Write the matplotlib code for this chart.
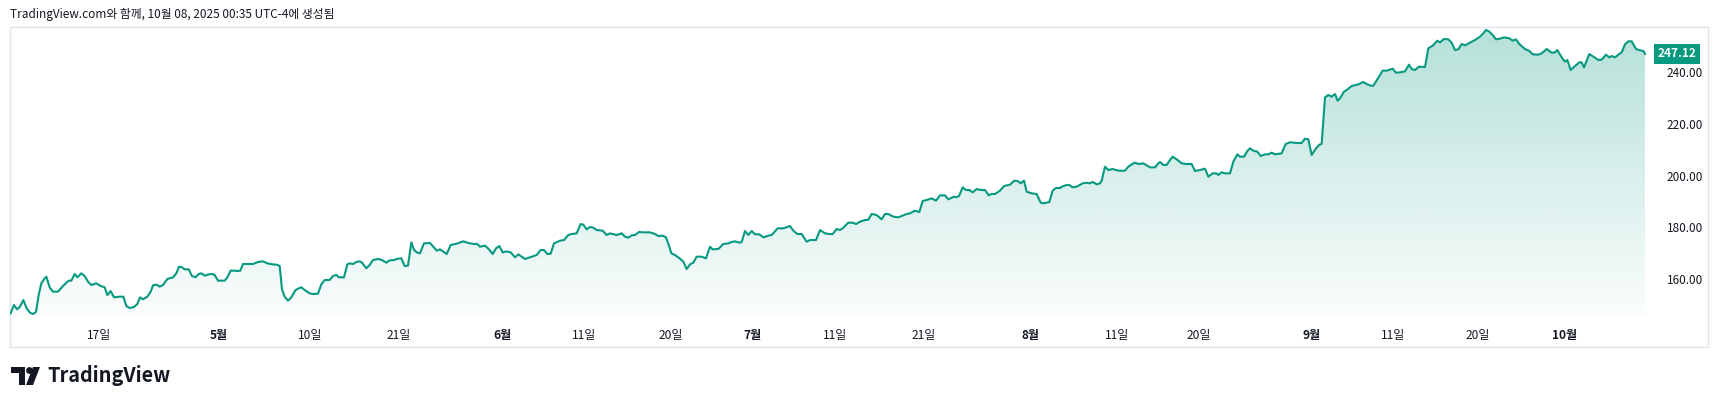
import numpy as np
import matplotlib
matplotlib.use("Agg")
import matplotlib.pyplot as plt
from matplotlib.patches import Rectangle, Circle, Polygon
import matplotlib.transforms as mtransforms

plt.rcParams["font.family"] = ["Noto Sans CJK KR", "DejaVu Sans"]

# price trace, x = bar position on the time scale
bars = [
    8, 18, 27, 36, 46, 56, 66, 75, 84, 92,
    100, 110, 115, 125, 135, 150, 165, 182, 190, 200,
    208, 220, 230, 240, 250, 265, 278, 290, 298, 308,
    318, 335, 346, 355, 365, 378, 388, 396, 405, 418,
    428, 435, 445, 455, 465, 478, 495, 505, 513, 522,
    530, 542, 552, 563, 572, 580, 590, 602, 612, 620,
    630, 650, 658, 668, 678, 688, 697, 705, 720, 735,
    750, 765, 778, 792, 806, 815, 822, 830, 840, 850,
    862, 870, 880, 890, 905, 915, 930, 940, 950, 965,
    975, 985, 993, 1008, 1018, 1025, 1035, 1045, 1055, 1062,
    1075, 1085, 1095, 1110, 1122, 1135, 1145, 1160, 1165, 1180,
    1190, 1200, 1210, 1218, 1228,
    1236, 1248, 1266, 1276, 1286, 1296, 1306, 1316, 1328, 1346,
    1366, 1381, 1398, 1408, 1416, 1431, 1441, 1454, 1464, 1474,
    1484, 1496, 1508, 1521, 1531, 1541, 1551, 1566, 1586, 1598,
    1608, 1618, 1628, 1638, 1656, 1668, 1681, 1691, 1706, 1718,
    1726, 1736, 1746, 1756, 1766, 1784, 1796, 1806, 1826, 1841,
    1851, 1861, 1871, 1881, 1893, 1906, 1926, 1941, 1951, 1964,
    1974, 1984, 1990, 2001, 2016, 2026, 2036, 2046, 2056, 2066,
    2081, 2094, 2106, 2114, 2131, 2146, 2161, 2171, 2181, 2194,
    2201, 2211, 2221, 2231, 2241, 2254, 2266, 2281, 2291, 2309,
    2326, 2346, 2356, 2368, 2381, 2396, 2406, 2424, 2436, 2451,
    2464, 2474, 2486, 2496,
    2504, 2521, 2534, 2544, 2556, 2571, 2581, 2591, 2606, 2621,
    2631, 2641, 2656, 2671, 2681, 2696, 2706, 2721, 2734, 2744,
    2756, 2771, 2784, 2796, 2811, 2821, 2838, 2844, 2853, 2864,
    2874, 2884, 2894, 2906, 2918, 2931, 2942, 2951, 2961, 2976,
    2988, 3006, 3019, 3031, 3038, 3048, 3056, 3071, 3086, 3098,
    3106, 3124, 3134, 3144, 3156, 3166, 3176, 3184, 3194, 3206,
    3224, 3236, 3244, 3254, 3266, 3276, 3281, 3291, 3301, 3314,
    3331, 3351, 3361, 3371, 3381, 3391, 3406, 3426, 3441, 3451,
    3456, 3466, 3476, 3486, 3494, 3506, 3521, 3536, 3551, 3561,
    3576, 3591, 3601, 3614, 3626, 3631, 3641, 3651, 3666, 3676,
    3688,
    3696, 3708, 3718, 3726, 3736, 3748, 3758, 3771, 3781, 3791,
    3801, 3821, 3833, 3846, 3866, 3881, 3891, 3901, 3911, 3924,
    3934, 3941, 3951, 3961, 3971, 3981, 3989, 3996, 4008, 4016,
    4031, 4051, 4066, 4076, 4088, 4096, 4108, 4124, 4136, 4154,
    4164, 4176, 4191, 4203, 4211, 4221, 4233, 4251, 4261, 4274,
    4288, 4296, 4308, 4321, 4331, 4341, 4351, 4361, 4371, 4386,
    4401, 4416, 4424, 4434, 4444, 4454, 4464, 4476, 4488, 4504,
    4514, 4524, 4534, 4551, 4564, 4574, 4591, 4601, 4616, 4631,
    4641, 4648, 4661, 4671, 4678, 4688, 4701, 4714, 4721, 4728,
    4744, 4756, 4771, 4781, 4794, 4804, 4811, 4821, 4831, 4841,
    4851, 4861, 4871, 4884, 4896, 4906, 4911,
]

prices = [
    146.76, 149.98, 148.31, 149.34, 151.92, 148.69, 147.02, 146.50, 147.28, 153.85,
    158.37, 160.30, 160.94, 156.82, 155.14, 155.14, 157.33, 159.40, 159.40, 161.98,
    160.69, 162.23, 161.20, 159.01, 157.72, 158.37, 157.33, 156.82, 153.85, 155.40,
    152.95, 153.21, 153.21, 149.60, 148.82, 149.21, 150.37, 152.95, 152.18, 153.21,
    155.14, 157.59, 157.85, 157.08, 157.72, 160.04, 160.69, 162.23, 164.81, 164.56,
    163.78, 163.78, 161.20, 160.69, 161.98, 162.23, 161.33, 161.85, 161.98, 161.59,
    159.40, 159.40, 160.69, 163.27, 163.27, 163.14, 163.27, 165.84, 165.84, 165.84,
    166.62, 166.88, 166.10, 165.72, 165.59, 165.07, 156.04, 153.21, 151.66, 152.95,
    155.66, 156.30, 156.82, 155.79, 154.50, 154.24, 154.37, 157.98, 159.65, 159.65,
    161.20, 161.59, 160.69, 160.69, 165.72, 166.10, 165.84, 166.62, 166.88, 166.36,
    164.17, 165.46, 167.39, 167.78, 167.39, 166.36, 167.26, 167.39, 167.78, 168.04,
    165.07, 165.20, 174.23, 171.26, 170.23,
    169.97, 173.83, 173.96, 172.54, 171.00, 171.51, 170.61, 169.71, 173.19, 173.71,
    174.61, 173.96, 173.58, 173.58, 172.54, 172.93, 171.77, 169.71, 171.90, 172.80,
    170.35, 170.74, 170.35, 168.42, 169.58, 168.68, 167.77, 168.42, 169.32, 171.25,
    171.25, 169.71, 169.84, 173.83, 174.87, 175.12, 177.06, 177.44, 177.70, 181.31,
    181.06, 179.25, 180.15, 179.89, 178.99, 178.73, 177.06, 177.70, 177.06, 177.70,
    176.41, 176.03, 176.93, 177.06, 178.22, 178.09, 178.09, 177.44, 176.67, 176.80,
    176.16, 172.54, 169.97, 169.32, 167.90, 166.74, 163.90, 165.71, 166.35, 168.68,
    168.68, 168.03, 172.54, 171.51, 171.64, 173.58, 173.83, 174.35, 174.61, 174.09,
    174.35, 178.61, 177.06, 178.61, 177.32, 177.32, 176.16, 176.80, 177.06, 179.64,
    179.64, 180.54, 178.73, 177.44, 177.44, 174.48, 175.12, 175.12, 178.99, 177.70,
    177.44, 177.44, 179.38, 178.99,
    179.64, 181.83, 181.83, 181.31, 182.21, 182.86, 182.99, 185.18, 184.79, 183.12,
    185.18, 185.18, 184.15, 183.89, 184.41, 185.18, 185.44, 186.47, 185.95, 190.21,
    190.60, 191.24, 190.34, 192.40, 192.40, 190.85, 191.89, 191.63, 192.14, 195.50,
    194.46, 194.46, 193.56, 194.85, 194.46, 194.46, 192.40, 192.92, 192.92, 194.21,
    196.01, 196.53, 198.08, 197.82, 197.04, 198.08, 193.82, 193.18, 192.92, 189.56,
    189.31, 189.82, 194.21, 195.24, 195.24, 196.01, 196.40, 196.40, 195.50, 195.75,
    197.04, 197.30, 197.04, 197.56, 196.66, 197.04, 198.08, 203.49, 202.20, 202.59,
    201.94, 201.94, 203.49, 204.39, 205.04, 204.52, 204.78, 203.23, 203.23, 204.78,
    205.30, 204.14, 204.14, 206.07, 207.36, 206.33, 204.78, 204.52, 204.52, 201.82,
    202.20, 202.72, 199.62, 200.91, 200.91, 200.27, 201.30, 200.91, 200.91, 205.43,
    208.26,
    207.36, 207.36, 209.55, 210.58, 209.68, 209.29, 207.62, 208.26, 208.26, 208.91,
    208.26, 208.65, 212.26, 212.91, 212.65, 212.65, 214.32, 214.07, 208.01, 210.58,
    212.00, 212.26, 230.31, 231.22, 230.57, 231.60, 229.02, 229.93, 232.51, 233.15,
    234.70, 235.34, 236.25, 235.47, 234.83, 234.83, 237.28, 240.63, 240.63, 241.40,
    239.86, 239.98, 240.37, 242.95, 241.27, 240.89, 242.18, 242.05, 249.27, 250.30,
    252.23, 251.59, 252.88, 252.75, 251.46, 248.62, 248.88, 250.95, 250.43, 251.46,
    252.49, 253.78, 254.81, 256.36, 255.72, 254.43, 252.75, 253.01, 253.52, 253.14,
    252.23, 252.75, 250.95, 249.01, 248.24, 246.95, 246.82, 247.33, 249.01, 247.59,
    247.72, 248.62, 245.79, 244.11, 244.76, 240.89, 242.43, 243.85, 243.85, 241.92,
    247.08, 246.05, 244.76, 244.88, 246.82, 245.79, 246.30, 245.79, 246.82, 247.72,
    250.82, 251.98, 251.98, 249.01, 248.50, 248.24, 247.12,
]

tick_bars = [272, 631, 907, 1171, 1483, 1727, 1987, 2233, 2480, 2747,
             3066, 3326, 3573, 3912, 4155, 4409, 4669]
tick_labels = ["17일", "5월", "10일", "21일", "6월", "11일", "20일", "7월", "11일", "21일",
               "8월", "11일", "20일", "9월", "11일", "20일", "10월"]
price_ticks = [160, 180, 200, 220, 240]
last_price = 247.12

title_text = "TradingView.com와 함께, 10월 08, 2025 00:35 UTC-4에 생성됨"

TEAL = "#089981"
TXT = "#131722"

W, H = 1720, 407
fig = plt.figure(figsize=(W / 100, H / 100), dpi=100)
fig.patch.set_facecolor("white")

# pixel-space overlay for frame / header / logo
deco = fig.add_axes([0, 0, 1, 1], zorder=0)
deco.set_xlim(0, W)
deco.set_ylim(H, 0)
deco.axis("off")
deco.add_patch(Rectangle((10, 27), 1698, 320, fill=False, edgecolor="#e0e3eb", lw=1.0))
deco.text(10, 14, title_text, fontsize=8.5, color=TXT, va="center", ha="left")

# TradingView logo
deco.add_patch(Polygon([(11, 367), (25, 367), (25, 385), (19, 385), (19, 373), (11, 373)],
                       closed=True, color=TXT, lw=0))
deco.add_patch(Circle((29.5, 370.5), 3.4, color=TXT, lw=0))
deco.add_patch(Polygon([(33, 367), (40, 367), (33, 385), (26, 385)], closed=True, color=TXT, lw=0))
deco.text(47, 376, "TradingView", fontsize=14.3, fontweight="bold", color=TXT,
          va="center", ha="left")

# price pane
ax = fig.add_axes([10 / W, 1 - 316 / H, 1640 / W, (316 - 27) / H], zorder=1)
ax.patch.set_alpha(0)
x = np.array(bars, dtype=float)
y = np.array(prices)
ylo, yhi = 145.73, 257.52
ax.set_xlim(6, 4926)
ax.set_ylim(ylo, yhi)

# gradient area under the line
grad = np.linspace(0.02, 0.30, 256).reshape(-1, 1)
rgba = np.zeros((256, 1, 4))
rgba[..., 0] = 8 / 255
rgba[..., 1] = 153 / 255
rgba[..., 2] = 129 / 255
rgba[..., 3] = grad
img = ax.imshow(rgba, extent=[x[0], x[-1], ylo, y.max()], origin="lower",
                aspect="auto", zorder=1, interpolation="bilinear")
poly = ax.fill_between(x, y, ylo, facecolor="none", edgecolor="none")
img.set_clip_path(poly.get_paths()[0], transform=ax.transData)
ax.plot(x, y, color=TEAL, lw=1.5, zorder=3, solid_joinstyle="round")

for s in ax.spines.values():
    s.set_visible(False)

ax.set_xticks(tick_bars)
ax.set_xticklabels(tick_labels)
for lab in ax.get_xticklabels():
    if lab.get_text().endswith("월"):
        lab.set_fontweight("bold")
ax.tick_params(axis="x", length=0, pad=9, labelsize=8.6, labelcolor=TXT)

ax.yaxis.tick_right()
ax.set_yticks(price_ticks)
ax.set_yticklabels([f"{v:.2f}" for v in price_ticks])
ax.tick_params(axis="y", length=0, pad=12, labelsize=8.5, labelcolor=TXT)

# last price marker on the scale
trans = mtransforms.blended_transform_factory(ax.transAxes, ax.transData)
ax.text(1.0167, last_price, f"{last_price:.2f}", transform=trans, ha="center", va="center",
        fontsize=8.5, fontweight="bold", color="white", clip_on=False,
        bbox=dict(boxstyle="square,pad=0.3", facecolor=TEAL, edgecolor="none"))

fig.savefig("out.png", dpi=100, facecolor="white")
